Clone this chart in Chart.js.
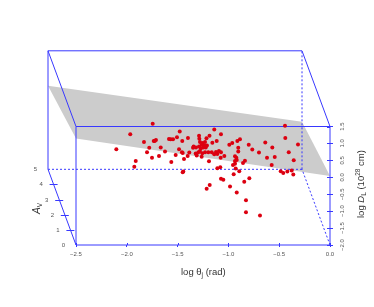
<!DOCTYPE html>
<html>
<head>
<meta charset="utf-8">
<style>
    html, body { margin: 0; padding: 0; background: #ffffff; }
    canvas { display: block; }
</style>
<script src="https://cdn.jsdelivr.net/npm/chart.js@4"></script>
</head>
<body>
<canvas id="jetChart" width="374" height="307"></canvas>
<script>
// log theta_j and log D_L of each source, as seen on the projected figure
const thetaValues = [
    -1.745, -1.966, -2.103, -1.831, -1.735, -1.713, -1.725, -1.779, -1.801, -1.666,
    -1.624, -1.752, -1.683, -1.912, -1.926, -1.562, -1.519, -1.437, -1.444, -1.45,
    -1.585, -1.568, -1.545, -1.506, -1.479, -1.454, -1.398, -1.486, -1.457, -1.45,
    -1.385, -1.401, -1.348, -1.289, -1.286, -1.216, -1.186, -1.139, -1.073, -1.158,
    -1.115, -1.28, -1.253, -1.23, -1.211, -1.237, -1.263, -1.289, -1.319, -1.27,
    -1.247, -1.223, -1.28, -1.257, -1.296, -1.23, -1.322, -1.198, -1.164, -1.139,
    -1.093, -1.073, -1.312, -1.263, -1.191, -0.551, -1.017, -0.443, -0.44, -0.315,
    -0.886, -0.912, -0.962, -0.991, -0.8, -0.903, -0.903, -0.765, -0.699, -0.637,
    -0.568, -0.62, -0.544, -0.406, -0.357, -0.574, -1.04, -1.076, -0.935, -0.922,
    -0.918, -0.935, -0.955, -0.935, -0.928, -0.856, -0.837, -0.893, -0.948, -1.109,
    -1.08, -1.073, -1.05, -0.794, -0.844, -1.184, -1.214, -0.984, -0.918, -0.827,
    -0.827, -0.689, -0.485, -0.46, -0.42, -0.377, -0.361, -1.122, -1.109, -1.342
];
const logDValues = [
    1.58, 1.27, 0.83, 1.04, 1.07, 1.10, 1.07, 0.87, 0.74, 0.88,
    0.76, 0.58, 0.63, 0.48, 0.31, 0.45, 0.66, 0.54, 0.17, 0.15,
    1.13, 1.12, 1.12, 1.18, 1.35, 1.07, 1.16, 0.83, 0.74, 0.72,
    0.73, 0.63, 0.87, 1.23, 1.14, 1.15, 1.23, 1.41, 1.27, 1.02,
    1.07, 1.04, 1.01, 1.04, 0.94, 0.94, 0.96, 0.91, 0.88, 0.86,
    0.88, 0.88, 0.78, 0.71, 0.74, 0.74, 0.70, 0.74, 0.74, 0.68,
    0.78, 0.74, 0.64, 0.61, 0.47, 1.87, 1.72, 1.52, 1.16, 0.97,
    1.12, 1.07, 1.01, 0.96, 0.96, 0.87, 0.76, 0.82, 0.73, 1.03,
    0.88, 0.58, 0.60, 0.74, 0.50, 0.36, 0.63, 0.58, 0.62, 0.58,
    0.51, 0.48, 0.36, 0.40, 0.26, 0.42, 0.49, 0.18, 0.09, 0.27,
    0.30, -0.04, -0.07, -0.03, -0.13, -0.23, -0.34, -0.27, -0.45, -0.68,
    -1.03, -1.13, 0.18, 0.13, 0.17, 0.20, 0.08, 0.75, 0.69, 0.91
];

// fitted plane corners (theta, log D, Av)
const planeTheta = [-2.5, 0, 0, -2.5];
const planeLogD = [1.145, 0.04, -0.596, 0.467];
const planeAv = [0, 0, 5, 5];

const avTicks = [0, 1, 2, 3, 4, 5];

const BLUE = '#3838ff';

// oblique projection of the third axis, in axis units per unit of Av
const depthX = -0.0551;
const depthY = 0.4471;

function project(theta, logD, av) {
    return { x: theta + av * depthX, y: logD + av * depthY };
}

function edge(a, b, dashed) {
    return {
        type: 'line',
        data: [project(a[0], a[1], a[2]), project(b[0], b[1], b[2])],
        borderColor: BLUE,
        borderWidth: 1,
        borderDash: dashed ? [2, 2] : [],
        pointRadius: 0,
        clip: false,
        order: 1
    };
}

// Box corners
const edges = [
    edge([-2.5, -2, 0], [0, -2, 0]),
    edge([-2.5, -2, 0], [-2.5, 1.5, 0]),
    edge([0, -2, 0], [0, 1.5, 0]),
    edge([-2.5, 1.5, 0], [0, 1.5, 0]),
    edge([-2.5, 1.5, 0], [-2.5, 1.5, 5]),
    edge([0, 1.5, 0], [0, 1.5, 5]),
    edge([-2.5, 1.5, 5], [0, 1.5, 5]),
    edge([-2.5, -2, 5], [-2.5, 1.5, 5]),
    edge([-2.5, -2, 0], [-2.5, -2, 5]),
    edge([-2.5, -2, 5], [0, -2, 5], true),
    edge([0, -2, 5], [0, 1.5, 5], true),
    edge([0, -2, 0], [0, -2, 5], true)
];

const sources = thetaValues.map((t, i) => ({ x: t, y: logDValues[i] }));

// Grey plane goes under the datasets
const planePlugin = {
    id: 'plane',
    beforeDatasetsDraw(chart) {
        const { ctx, scales } = chart;
        ctx.save();
        ctx.fillStyle = '#cccccc';
        ctx.beginPath();
        planeTheta.forEach((t, i) => {
            const p = project(t, planeLogD[i], planeAv[i]);
            ctx.lineTo(scales.x.getPixelForValue(p.x), scales.y.getPixelForValue(p.y));
        });
        ctx.closePath();
        ctx.fill();
        ctx.restore();
    }
};

// Av axis, inner tick halves and the axis titles
const labelsPlugin = {
    id: 'labels',
    afterDatasetsDraw(chart) {
        const { ctx, scales, chartArea } = chart;
        ctx.save();
        ctx.strokeStyle = BLUE;
        ctx.lineWidth = 1;
        ctx.font = '6px "Liberation Sans"';
        ctx.fillStyle = '#555555';
        ctx.textAlign = 'center';
        ctx.textBaseline = 'middle';

        avTicks.forEach(av => {
            const p = project(-2.5, -2, av);
            const px = scales.x.getPixelForValue(p.x);
            const py = Math.round(scales.y.getPixelForValue(p.y)) + 0.5;
            if (av > 0 && av < 5) {
                ctx.beginPath();
                ctx.moveTo(px - 4, py);
                ctx.lineTo(px + 4, py);
                ctx.stroke();
            }
            ctx.fillText(String(av), px - 12.5, py - 0.5);
        });

        scales.x.ticks.forEach(tick => {
            const px = Math.round(scales.x.getPixelForValue(tick.value)) + 0.5;
            ctx.beginPath();
            ctx.moveTo(px, chartArea.bottom - 2);
            ctx.lineTo(px, chartArea.bottom);
            ctx.stroke();
        });
        scales.y.ticks.forEach(tick => {
            const py = Math.round(scales.y.getPixelForValue(tick.value)) + 0.5;
            ctx.beginPath();
            ctx.moveTo(chartArea.right - 3, py);
            ctx.lineTo(chartArea.right, py);
            ctx.stroke();
        });

        ctx.fillStyle = '#333333';
        ctx.textAlign = 'left';
        ctx.textBaseline = 'alphabetic';
        drawPieces(ctx, 181, 275, 0, [
            ['log \u03b8', 9.5, 0, ''],
            ['j', 6.5, 2, ''],
            [' (rad)', 9.5, 0, '']
        ]);
        drawPieces(ctx, 364, 218, -Math.PI / 2, [
            ['log ', 9.5, 0, ''],
            ['D', 9.5, 0, 'italic '],
            ['L', 6.5, 2, ''],
            [' (10', 9.5, 0, ''],
            ['28', 6.5, -4, ''],
            [' cm)', 9.5, 0, '']
        ]);
        drawPieces(ctx, 40, 214, -Math.PI / 2, [
            ['A', 10, 0, 'italic '],
            ['V', 6.5, 2, '']
        ]);
        ctx.restore();
    }
};

// Text with sub/superscripts: [text, size, baseline shift, style]
function drawPieces(ctx, x, y, angle, pieces) {
    ctx.save();
    ctx.translate(x, y);
    ctx.rotate(angle);
    let cursor = 0;
    pieces.forEach(([text, size, shift, style]) => {
        ctx.font = `${style}${size}px "Liberation Sans"`;
        ctx.fillText(text, cursor, shift);
        cursor += ctx.measureText(text).width;
    });
    ctx.restore();
}

const tickFormat = value => value.toFixed(1).replace('-', '\u2212');
const tickFont = { family: '"Liberation Sans"', size: 6 };

new Chart(document.getElementById('jetChart'), {
    type: 'scatter',
    data: {
        datasets: [
            {
                label: 'sources',
                data: sources,
                backgroundColor: '#dc0010',
                borderWidth: 0,
                pointRadius: 2,
                clip: false,
                order: 0
            },
            ...edges
        ]
    },
    options: {
        responsive: false,
        animation: false,
        layout: { padding: { left: 76, top: 126.5, right: 0, bottom: 0 } },
        plugins: {
            legend: { display: false },
            tooltip: { enabled: false }
        },
        scales: {
            x: {
                type: 'linear',
                min: -2.5,
                max: 0,
                afterFit: scale => { scale.height = 62; },
                border: { display: false },
                grid: { drawOnChartArea: false, tickColor: BLUE, tickLength: 2 },
                ticks: {
                    stepSize: 0.5,
                    callback: tickFormat,
                    font: tickFont,
                    color: '#555555',
                    padding: 4,
                    maxRotation: 0,
                    minRotation: 0,
                    autoSkip: false
                }
            },
            y: {
                type: 'linear',
                position: 'right',
                min: -2,
                max: 1.5,
                afterFit: scale => { scale.width = 44; },
                border: { display: false },
                grid: { drawOnChartArea: false, tickColor: BLUE, tickLength: 3 },
                ticks: {
                    stepSize: 0.5,
                    callback: tickFormat,
                    font: tickFont,
                    color: '#555555',
                    padding: 3,
                    minRotation: 90,
                    maxRotation: 90,
                    crossAlign: 'center',
                    autoSkip: false
                }
            }
        }
    },
    plugins: [planePlugin, labelsPlugin]
});
</script>
</body>
</html>
